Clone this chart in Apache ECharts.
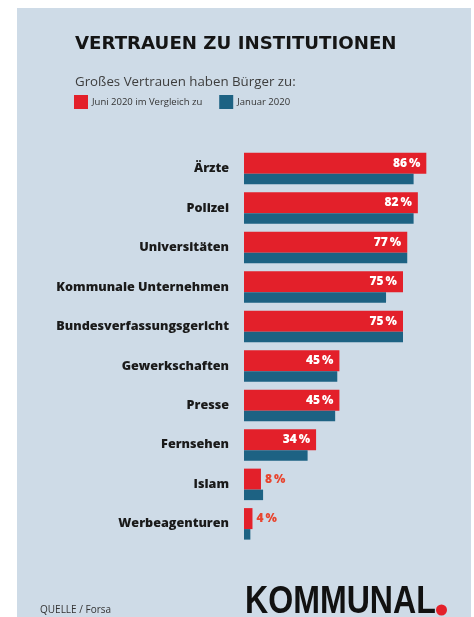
<!DOCTYPE html>
<html>
<head>
<meta charset="utf-8">
<script src="https://cdn.jsdelivr.net/npm/echarts@6/dist/echarts.min.js"></script>
<style>
html,body{margin:0;padding:0;background:#fff;}
#c{width:474px;height:617px;}
</style>
</head>
<body>
<div id="c"></div>
<script>
var categories = ['Ärzte','Polizei','Universitäten','Kommunale Unternehmen','Bundesverfassungsgericht','Gewerkschaften','Presse','Fernsehen','Islam','Werbeagenturen'];
var juni2020 = [86,82,77,75,75,45,45,34,8,4];
var januar2020 = [80,80,77,67,75,44,43,30,9,3];
var seriesNames = ['Juni 2020 im Vergleich zu','Januar 2020'];

var RED = '#e3202a', BLUE = '#1d6283', LABELRED = '#e8452f';
var FONT = '"Open Sans", "Noto Sans", sans-serif';

var juniData = juni2020.map(function(v){
  if (v < 10) {
    return {value: v, label: {position: 'right', color: LABELRED, distance: 4}};
  }
  return v;
});

var chart = echarts.init(document.getElementById('c'), null, {renderer:'canvas'});
chart.setOption({
  backgroundColor: '#ffffff',
  animation: false,
  graphic: [
    {type:'rect', shape:{x:17, y:8, width:454, height:609}, style:{fill:'#cedbe7'}, z:-10},
    {type:'text', x:245, y:584, scaleX:0.845, style:{text:'KOMMUNAL', font:'bold 38px "Liberation Sans", sans-serif', fill:'#111111'}},
    {type:'circle', shape:{cx:441.5, cy:610, r:5.5}, style:{fill:'#e3202a'}}
  ],
  title: [
    {text:'VERTRAUEN ZU INSTITUTIONEN', left:75, top:35, padding:0, textStyle:{fontFamily:'"DejaVu Sans", sans-serif', fontWeight:'bold', fontSize:18.2, color:'#151515'}},
    {text:'Großes Vertrauen haben Bürger zu:', left:75, top:76, padding:0, textStyle:{fontFamily:FONT, fontWeight:'normal', fontSize:13.3, color:'#3d3d3d'}},
    {text:'QUELLE / Forsa', left:40, top:605, padding:0, textStyle:{fontFamily:FONT, fontWeight:'normal', fontSize:10, color:'#333333'}}
  ],
  legend: {
    left: 74, top: 95, padding: 0,
    itemWidth: 14, itemHeight: 14, itemGap: 17,
    icon: 'rect',
    textStyle: {fontFamily:FONT, fontSize:9.5, color:'#333333', padding:[0,0,0,-1]},
    data: seriesNames
  },
  grid: {left:244, top:148.8, width:212, height:394.8, containLabel:false},
  xAxis: {
    type:'value', min:0, max:100,
    show:false
  },
  yAxis: {
    type:'category', inverse:true, data:categories,
    axisLine:{show:false}, axisTick:{show:false},
    axisLabel:{fontFamily:FONT, fontWeight:800, fontSize:12.6, color:'#1a1a1a', margin:15}
  },
  series: [
    {
      name: seriesNames[0], type:'bar', data: juniData,
      barWidth: 21, barGap: '0%',
      itemStyle:{color:RED},
      label:{show:true, position:'insideRight', formatter:'{c}\u2009%', color:'#ffffff', fontFamily:FONT, fontWeight:800, fontSize:12, distance:6}
    },
    {
      name: seriesNames[1], type:'bar', data: januar2020,
      barWidth: 10.5, barGap: '0%',
      itemStyle:{color:BLUE}
    }
  ]
});
</script>
</body>
</html>
